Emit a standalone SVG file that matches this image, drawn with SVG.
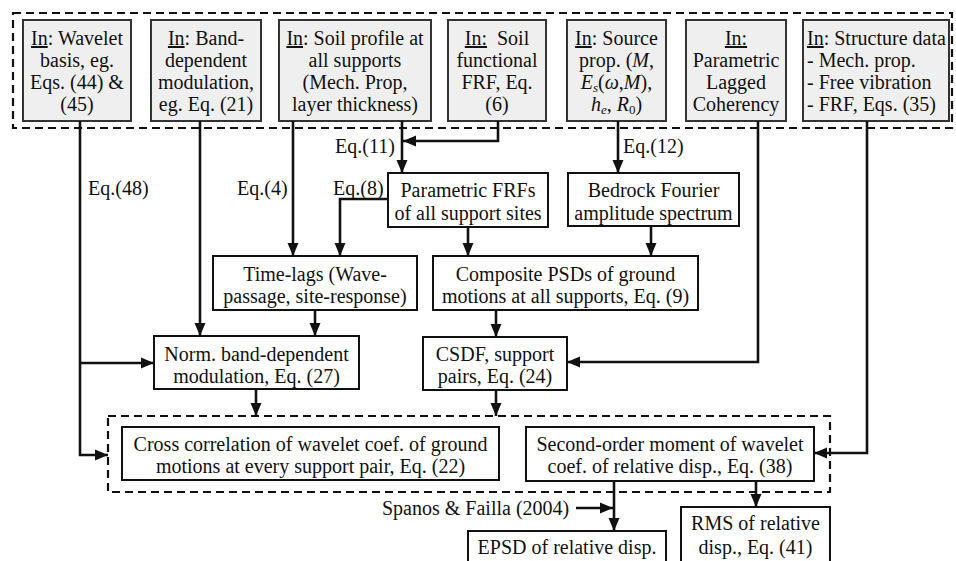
<svg xmlns="http://www.w3.org/2000/svg" width="956" height="561" viewBox="0 0 956 561">
<style>
text{font-family:"Liberation Serif","Times New Roman",serif;font-size:20px;fill:#111}
.c{text-anchor:middle}
.in{fill:#efefef;stroke:#333;stroke-width:2}
.bx{fill:#fff;stroke:#111;stroke-width:2}
.dash{fill:none;stroke:#111;stroke-width:2.2;stroke-dasharray:8 5}
.ln{fill:none;stroke:#111;stroke-width:2.6}
.u{text-decoration:underline}
.i{font-style:italic}
</style>
<defs>
<marker id="ah" markerUnits="userSpaceOnUse" markerWidth="14" markerHeight="14" viewBox="0 0 14 14" refX="13" refY="7" orient="auto">
<path d="M0,1.5 L13,7 L0,12.5 Z" fill="#111"/>
</marker>
</defs>
<rect class="dash" x="13" y="13" width="939" height="115"/>
<rect class="dash" x="108" y="416" width="722" height="76"/>

<g id="in1"><rect class="in" x="23" y="20" width="108" height="101"/>
<text class="c" x="77" y="45"><tspan class="u">In</tspan>: Wavelet</text>
<text class="c" x="77" y="67">basis, eg.</text>
<text class="c" x="77" y="89">Eqs. (44) &amp;</text>
<text class="c" x="77" y="111">(45)</text></g>

<g id="in2"><rect class="in" x="151" y="20" width="110" height="101"/>
<text class="c" x="206" y="45"><tspan class="u">In</tspan>: Band-</text>
<text class="c" x="206" y="67">dependent</text>
<text class="c" x="206" y="89">modulation,</text>
<text class="c" x="206" y="111">eg. Eq. (21)</text></g>

<g id="in3"><rect class="in" x="279" y="20" width="152" height="101"/>
<text class="c" x="355" y="45"><tspan class="u">In</tspan>: Soil profile at</text>
<text class="c" x="355" y="67">all supports</text>
<text class="c" x="355" y="89">(Mech. Prop,</text>
<text class="c" x="355" y="111">layer thickness)</text></g>

<g id="in4"><rect class="in" x="448" y="20" width="98" height="101"/>
<text class="c" x="497" y="45"><tspan class="u">In:</tspan><tspan dx="5"> Soil</tspan></text>
<text class="c" x="497" y="67">functional</text>
<text class="c" x="497" y="89">FRF, Eq.</text>
<text class="c" x="497" y="111">(6)</text></g>

<g id="in5"><rect class="in" x="567" y="20" width="99" height="101"/>
<text class="c" x="616.5" y="45"><tspan class="u">In</tspan>: Source</text>
<text class="c" x="616.5" y="67">prop. (<tspan class="i">M</tspan>,</text>
<text class="c" x="616.5" y="89"><tspan class="i">E</tspan><tspan class="i" font-size="13" dy="3">s</tspan><tspan dy="-3">(</tspan><tspan class="i">ω</tspan>,<tspan class="i">M</tspan>),</text>
<text class="c" x="616.5" y="111"><tspan class="i">h</tspan><tspan class="i" font-size="13" dy="3">e</tspan><tspan dy="-3">, </tspan><tspan class="i">R</tspan><tspan font-size="13" dy="3">0</tspan><tspan dy="-3">)</tspan></text></g>

<g id="in6"><rect class="in" x="686" y="20" width="100" height="101"/>
<text class="c" x="736" y="45"><tspan class="u">In:</tspan></text>
<text class="c" x="736" y="67">Parametric</text>
<text class="c" x="736" y="89">Lagged</text>
<text class="c" x="736" y="111">Coherency</text></g>

<g id="in7"><rect class="in" x="803" y="20" width="146" height="101"/>
<text x="807" y="45"><tspan class="u">In</tspan>: Structure data</text>
<text x="807" y="67">- Mech. prop.</text>
<text x="807" y="89">- Free vibration</text>
<text x="807" y="111">- FRF, Eqs. (35)</text></g>

<g id="frf"><rect class="bx" x="388" y="173" width="160" height="54"/>
<text class="c" x="468" y="197">Parametric FRFs</text>
<text class="c" x="468" y="220">of all support sites</text></g>

<g id="bedrock"><rect class="bx" x="568" y="173" width="171" height="53"/>
<text class="c" x="653.5" y="197">Bedrock Fourier</text>
<text class="c" x="653.5" y="220">amplitude spectrum</text></g>

<g id="timelags"><rect class="bx" x="213" y="256" width="204" height="54"/>
<text class="c" x="315" y="281">Time-lags (Wave-</text>
<text class="c" x="315" y="303">passage, site-response)</text></g>

<g id="composite"><rect class="bx" x="433" y="256" width="265" height="54"/>
<text class="c" x="565.5" y="281">Composite PSDs of ground</text>
<text class="c" x="565.5" y="303">motions at all supports, Eq. (9)</text></g>

<g id="norm"><rect class="bx" x="154" y="336" width="205" height="53"/>
<text class="c" x="256.5" y="361">Norm. band-dependent</text>
<text class="c" x="256.5" y="383">modulation, Eq. (27)</text></g>

<g id="csdf"><rect class="bx" x="423" y="337" width="144" height="53"/>
<text class="c" x="495" y="361">CSDF, support</text>
<text class="c" x="495" y="383">pairs, Eq. (24)</text></g>

<g id="cross"><rect class="bx" x="122" y="427" width="377" height="53"/>
<text class="c" x="310.5" y="451">Cross correlation of wavelet coef. of ground</text>
<text class="c" x="310.5" y="473">motions at every support pair, Eq. (22)</text></g>

<g id="second"><rect class="bx" x="526" y="427" width="288" height="54"/>
<text class="c" x="670" y="451">Second-order moment of wavelet</text>
<text class="c" x="670" y="473">coef. of relative disp., Eq. (38)</text></g>

<g id="epsd"><rect class="bx" x="468" y="531" width="198" height="40"/>
<text class="c" x="567" y="554">EPSD of relative disp.</text></g>

<g id="rms"><rect class="bx" x="681" y="507" width="149" height="70"/>
<text class="c" x="755.5" y="530">RMS of relative</text>
<text class="c" x="755.5" y="554">disp., Eq. (41)</text></g>

<g id="connectors">
<path class="ln" d="M80,121 V455 H108" marker-end="url(#ah)"/>
<path class="ln" d="M80,363 H154" marker-end="url(#ah)"/>
<path class="ln" d="M200,121 V336" marker-end="url(#ah)"/>
<path class="ln" d="M293,121 V256" marker-end="url(#ah)"/>
<path class="ln" d="M402,121 V173" marker-end="url(#ah)"/>
<path class="ln" d="M498,121 V141 H403" marker-end="url(#ah)"/>
<path class="ln" d="M388,199 H340 V256" marker-end="url(#ah)"/>
<path class="ln" d="M618,121 V173" marker-end="url(#ah)"/>
<path class="ln" d="M468,227 V256" marker-end="url(#ah)"/>
<path class="ln" d="M651,226 V256" marker-end="url(#ah)"/>
<path class="ln" d="M315,310 V336" marker-end="url(#ah)"/>
<path class="ln" d="M496,310 V337" marker-end="url(#ah)"/>
<path class="ln" d="M758,121 V362 H567" marker-end="url(#ah)"/>
<path class="ln" d="M256,389 V416" marker-end="url(#ah)"/>
<path class="ln" d="M496,390 V416" marker-end="url(#ah)"/>
<path class="ln" d="M867,121 V453 H814" marker-end="url(#ah)"/>
<path class="ln" d="M614,481 V531" marker-end="url(#ah)"/>
<path class="ln" d="M576,508 H613" marker-end="url(#ah)"/>
<path class="ln" d="M756,481 V507" marker-end="url(#ah)"/>
<text x="88" y="195">Eq.(48)</text>
<text x="237" y="195">Eq.(4)</text>
<text x="333" y="195">Eq.(8)</text>
<text x="335" y="153">Eq.(11)</text>
<text x="623" y="153">Eq.(12)</text>
<text x="382" y="515">Spanos &amp; Failla (2004)</text>
</g>
</svg>
